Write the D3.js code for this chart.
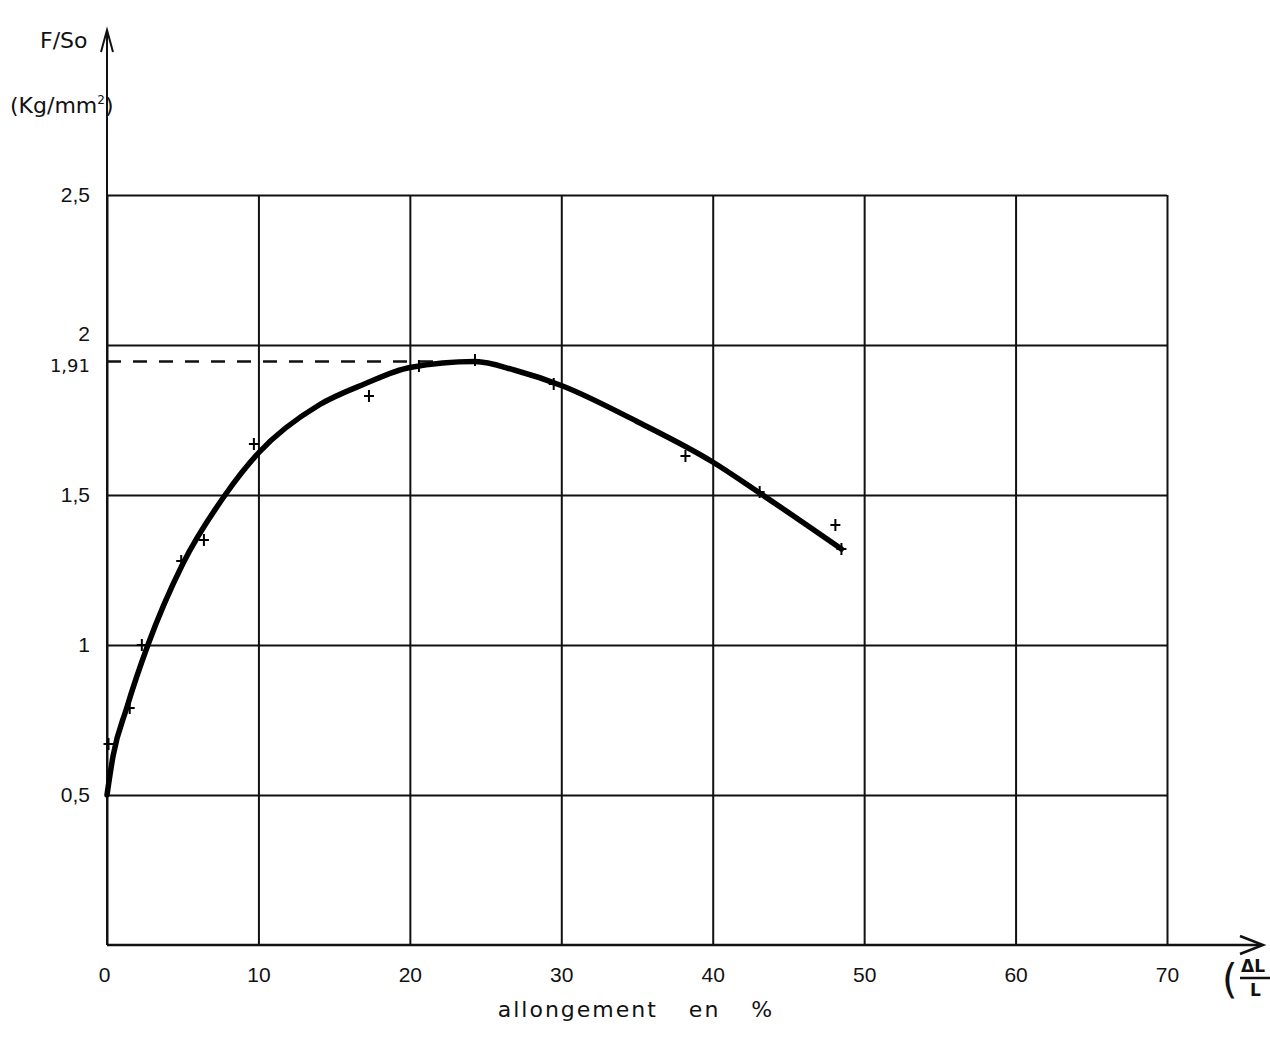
<!DOCTYPE html>
<html>
<head>
<meta charset="utf-8">
<script src="https://cdn.jsdelivr.net/npm/d3@7"></script>
<style>
	body { margin: 0; background: #fff; }
	svg { display: block; font-family: "DejaVu Sans", sans-serif; }
	.grid line { stroke: #111; stroke-width: 2; }
	.grid path { display: none; }
	.grid text { fill: #111; font-size: 21px; }
</style>
</head>
<body>
<svg width="1270" height="1041"></svg>
<script>
// tick values and labels
const xTicks = [0, 10, 20, 30, 40, 50, 60, 70];
const yTicks = [0.5, 1, 1.5, 2, 2.5];
const yTickLabels = ["0,5", "1", "1,5", "2", "2,5"];

// measured points (+)
const measX = [0.1, 1.5, 2.3, 4.9, 6.4, 9.7, 17.3, 20.6, 24.3, 29.5, 38.2, 43.1, 48.1, 48.5];
const measY = [0.67, 0.79, 1.0, 1.28, 1.35, 1.67, 1.83, 1.93, 1.95, 1.87, 1.63, 1.51, 1.40, 1.32];

// hand-drawn curve
const curveX = [0, 0.4, 1.3, 2.7, 5.0, 7.8, 10, 14, 17, 20, 24.3, 27, 30, 35, 40, 43, 48.5];
const curveY = [0.5, 0.63, 0.79, 1.0, 1.27, 1.5, 1.64, 1.80, 1.87, 1.925, 1.945, 1.915, 1.865, 1.745, 1.61, 1.51, 1.32];

// peak marked with dashed line
const peakX = 24.3;
const peakY = 1.945;
const peakLabel = "1,91";

const svg = d3.select("svg");
const x = d3.scaleLinear().domain([0, 70]).range([107, 1167]);
const y = d3.scaleLinear().domain([0, 2.5]).range([945, 195]);

// horizontal grid + y labels
const gY = svg.append("g")
	.attr("class", "grid")
	.attr("transform", `translate(${x(0)},0)`)
	.call(d3.axisLeft(y)
		.tickValues(yTicks)
		.tickSize(-(x(70) - x(0)))
		.tickPadding(17)
		.tickFormat((d, i) => yTickLabels[i]));
gY.selectAll(".tick").filter(d => d === 2).select("text")
	.attr("dy", "-0.2em").attr("font-size", 19);

// vertical grid + x labels
const gX = svg.append("g")
	.attr("class", "grid")
	.attr("transform", `translate(0,${y(0)})`)
	.call(d3.axisBottom(x)
		.tickValues(xTicks)
		.tickSize(-(y(0) - y(2.5)))
		.tickPadding(14)
		.tickFormat(d3.format("d")));
gX.selectAll("text").attr("dy", "1.1em");
gX.selectAll(".tick").filter(d => d === 0).select("text").attr("dx", -3);

// axes with arrows
svg.append("line")
	.attr("x1", x(0)).attr("x2", x(0))
	.attr("y1", y(0)).attr("y2", 32)
	.attr("stroke", "#111").attr("stroke-width", 2);
svg.append("path")
	.attr("d", `M${x(0) - 6},52 L${x(0)},30 L${x(0) + 6},52`)
	.attr("fill", "none").attr("stroke", "#111").attr("stroke-width", 2);

svg.append("line")
	.attr("x1", x(0)).attr("x2", 1262)
	.attr("y1", y(0)).attr("y2", y(0))
	.attr("stroke", "#111").attr("stroke-width", 2.5);
svg.append("path")
	.attr("d", `M1240,${y(0) - 9} L1263,${y(0)} L1240,${y(0) + 9}`)
	.attr("fill", "none").attr("stroke", "#111").attr("stroke-width", 2.5);

// dashed peak line and its label
svg.append("line")
	.attr("x1", x(0)).attr("x2", x(peakX))
	.attr("y1", y(peakY)).attr("y2", y(peakY))
	.attr("stroke", "#111").attr("stroke-width", 2.5)
	.attr("stroke-dasharray", "14,12");
svg.append("text")
	.attr("x", 90).attr("y", y(peakY) + 10)
	.attr("text-anchor", "end")
	.attr("font-size", 18)
	.attr("fill", "#111")
	.text(peakLabel);

// curve
const line = d3.line()
	.curve(d3.curveMonotoneX)
	.x(i => x(curveX[i]))
	.y(i => y(curveY[i]));
svg.append("path")
	.attr("d", line(d3.range(curveX.length)))
	.attr("fill", "none")
	.attr("stroke", "#000")
	.attr("stroke-width", 5.5)
	.attr("stroke-linecap", "round")
	.attr("stroke-linejoin", "round");

// measured points as +
svg.append("g")
	.selectAll("path")
	.data(d3.range(measX.length))
	.join("path")
	.attr("transform", i => `translate(${x(measX[i])},${y(measY[i])})`)
	.attr("d", "M-5,0H5M0,-6V6")
	.attr("stroke", "#000")
	.attr("stroke-width", 2);

// axis titles
svg.append("text")
	.attr("x", 40).attr("y", 48)
	.attr("font-size", 22).attr("fill", "#111")
	.text("F/So");
svg.append("text")
	.attr("x", 10).attr("y", 113)
	.attr("font-size", 22).attr("fill", "#111")
	.html('(Kg/mm<tspan dy="-9" font-size="12">2</tspan><tspan dy="9">)</tspan>');

svg.append("text")
	.attr("x", 636).attr("y", 1017)
	.attr("text-anchor", "middle")
	.attr("font-size", 22).attr("fill", "#111")
	.attr("letter-spacing", 2)
	.attr("word-spacing", 22)
	.text("allongement en %");

// (ΔL/L at right edge
svg.append("text")
	.attr("x", 1222).attr("y", 993)
	.attr("font-size", 40).attr("fill", "#111")
	.text("(");
svg.append("text")
	.attr("x", 1241).attr("y", 972)
	.attr("font-size", 17).attr("font-weight", "bold").attr("fill", "#111")
	.text("ΔL");
svg.append("line")
	.attr("x1", 1240).attr("x2", 1270)
	.attr("y1", 978).attr("y2", 978)
	.attr("stroke", "#111").attr("stroke-width", 2.5);
svg.append("text")
	.attr("x", 1250).attr("y", 996)
	.attr("font-size", 17).attr("font-weight", "bold").attr("fill", "#111")
	.text("L");
</script>
</body>
</html>
